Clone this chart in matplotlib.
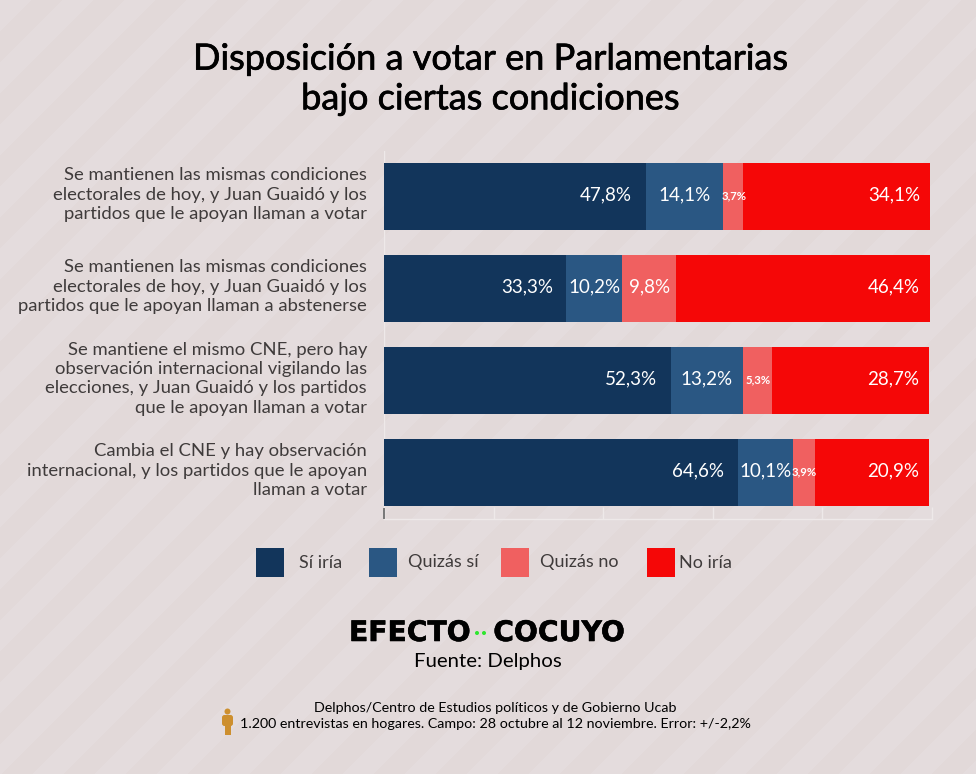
import numpy as np
import matplotlib
matplotlib.use("Agg")
import matplotlib.pyplot as plt
import matplotlib.patheffects as pe
from matplotlib.patches import Rectangle, Circle, FancyBboxPatch

plt.rcParams['font.family'] = ['Lato', 'DejaVu Sans']

W, H = 976, 774

questions = [
    "Se mantienen las mismas condiciones\nelectorales de hoy, y Juan Guaidó y los\npartidos que le apoyan llaman a votar",
    "Se mantienen las mismas condiciones\nelectorales de hoy, y Juan Guaidó y los\npartidos que le apoyan llaman a abstenerse",
    "Se mantiene el mismo CNE, pero hay\nobservación internacional vigilando las\nelecciones, y Juan Guaidó y los partidos\nque le apoyan llaman a votar",
    "Cambia el CNE y hay observación\ninternacional, y los partidos que le apoyan\nllaman a votar",
]
si_iria = [47.8, 33.3, 52.3, 64.6]
quizas_si = [14.1, 10.2, 13.2, 10.1]
quizas_no = [3.7, 9.8, 5.3, 3.9]
no_iria = [34.1, 46.4, 28.7, 20.9]

series = [si_iria, quizas_si, quizas_no, no_iria]
series_names = ["Sí iría", "Quizás sí", "Quizás no", "No iría"]
colours = ["#12355b", "#2a5783", "#f06060", "#f50707"]
legend_x = [256, 369, 501, 647]
legend_text_x = [299, 408, 540, 679]

fig = plt.figure(figsize=(W / 100, H / 100), dpi=100)

# background with soft diagonal stripes
bg = fig.add_axes([0, 0, 1, 1], zorder=0)
yy, xx = np.mgrid[0:H, 0:W]
stripes = ((xx + yy) % 62) < 31
bg.imshow(stripes, cmap=matplotlib.colors.ListedColormap(["#e2d9d9", "#e4dcdd"]), aspect="auto",
          extent=[0, W, H, 0], interpolation="bilinear")
bg.set_xlim(0, W)
bg.set_ylim(H, 0)
bg.axis("off")

# chart
ax = fig.add_axes([384 / W, 1 - 518.5 / H, 548 / W, 368 / H], zorder=1)
ax.patch.set_alpha(0)
y = np.arange(len(questions))
left = np.zeros(len(questions))
for vals, col in zip(series, colours):
    ax.barh(y, vals, left=left, height=0.73, color=col, linewidth=0)
    left = left + np.array(vals)
ax.set_xlim(0, 100)
ax.set_ylim(3.5, -0.5)

# first and last series sit at the right of their segment, the middle ones centred
left = np.zeros(len(questions))
for k, vals in enumerate(series):
    for i, v in enumerate(vals):
        label = f"{v:.1f}%".replace(".", ",")
        if v < 6:
            ax.text(left[i] + v / 2 + 0.1, i - 0.01, label, color="white", fontsize=8.2, ha="center", va="center",
                    fontweight="bold")
        elif k == 0:
            ax.text(left[i] + v - 2.5, i - 0.02, label, color="white", fontsize=13.5, ha="right", va="center")
        elif k == 3:
            ax.text(left[i] + v - 1.9, i - 0.02, label, color="white", fontsize=13.5, ha="right", va="center")
        else:
            ax.text(left[i] + v / 2, i - 0.02, label, color="white", fontsize=13.5, ha="center", va="center")
    left = left + np.array(vals)

for s in ["top", "right", "left"]:
    ax.spines[s].set_visible(False)
ax.spines["bottom"].set_color("#eee9e9")
ax.spines["bottom"].set_linewidth(1)
ax.set_xticks([0, 20, 40, 60, 80, 100])
ax.set_xticklabels([])
ax.tick_params(axis="x", direction="in", length=9, color="#eee9e9", width=1)
ax.set_yticks([])
ax.axvline(0, color="#eee9e9", lw=1, zorder=0)

# overlay in pixel coordinates
ov = fig.add_axes([0, 0, 1, 1], zorder=2)
ov.set_xlim(0, W)
ov.set_ylim(H, 0)
ov.axis("off")

ov.plot([384, 384], [509, 518], color="#777777", lw=1.4)

ov.text(490, 79, "Disposición a votar en Parlamentarias\nbajo ciertas condiciones", ha="center", va="center",
        fontsize=26, color="black", linespacing=1.25,
        path_effects=[pe.withStroke(linewidth=0.5, foreground="black")])

for i, q in enumerate(questions):
    ov.text(367, 194.7 + 92 * i, q, ha="right", va="center", fontsize=13.3, color="#3f3b3b", linespacing=1.26)

for name, col, lx, tx in zip(series_names, colours, legend_x, legend_text_x):
    ov.add_patch(Rectangle((lx, 548), 28, 29, color=col, lw=0))
    ov.text(tx, 562.5, name, ha="left", va="center", fontsize=13, color="#3f3b3b")

# logo
logo = [pe.withStroke(linewidth=0.4, foreground="black")]
ov.text(349, 633, "EFECTO", ha="left", va="center", fontsize=20.3, fontweight="bold", color="black",
        family="DejaVu Sans", path_effects=logo)
ov.text(625, 633, "COCUYO", ha="right", va="center", fontsize=20.3, fontweight="bold", color="black",
        family="DejaVu Sans", path_effects=logo)
ov.add_patch(Circle((477, 633), 2, color="#2ee62e", lw=0))
ov.add_patch(Circle((484, 633), 2, color="#2ee62e", lw=0))

ov.text(488, 661, "Fuente: Delphos", ha="center", va="center", fontsize=14.7, color="black")
ov.text(495, 708.5, "Delphos/Centro de Estudios políticos y de Gobierno Ucab", ha="center", va="center",
        fontsize=10.3, color="black")
ov.text(495, 724.5, "1.200 entrevistas en hogares. Campo: 28 octubre al 12 noviembre. Error: +/-2,2%", ha="center",
        va="center", fontsize=10.3, color="black")

# person icon
icon = "#cd8f2e"
ov.add_patch(Circle((227.5, 711.5), 3, color=icon, lw=0))
ov.add_patch(FancyBboxPatch((222, 715), 11, 11, boxstyle="round,pad=0,rounding_size=2.5", color=icon, lw=0))
ov.add_patch(Rectangle((224.5, 724), 6, 11, color=icon, lw=0))

fig.savefig("out.png", dpi=100)
